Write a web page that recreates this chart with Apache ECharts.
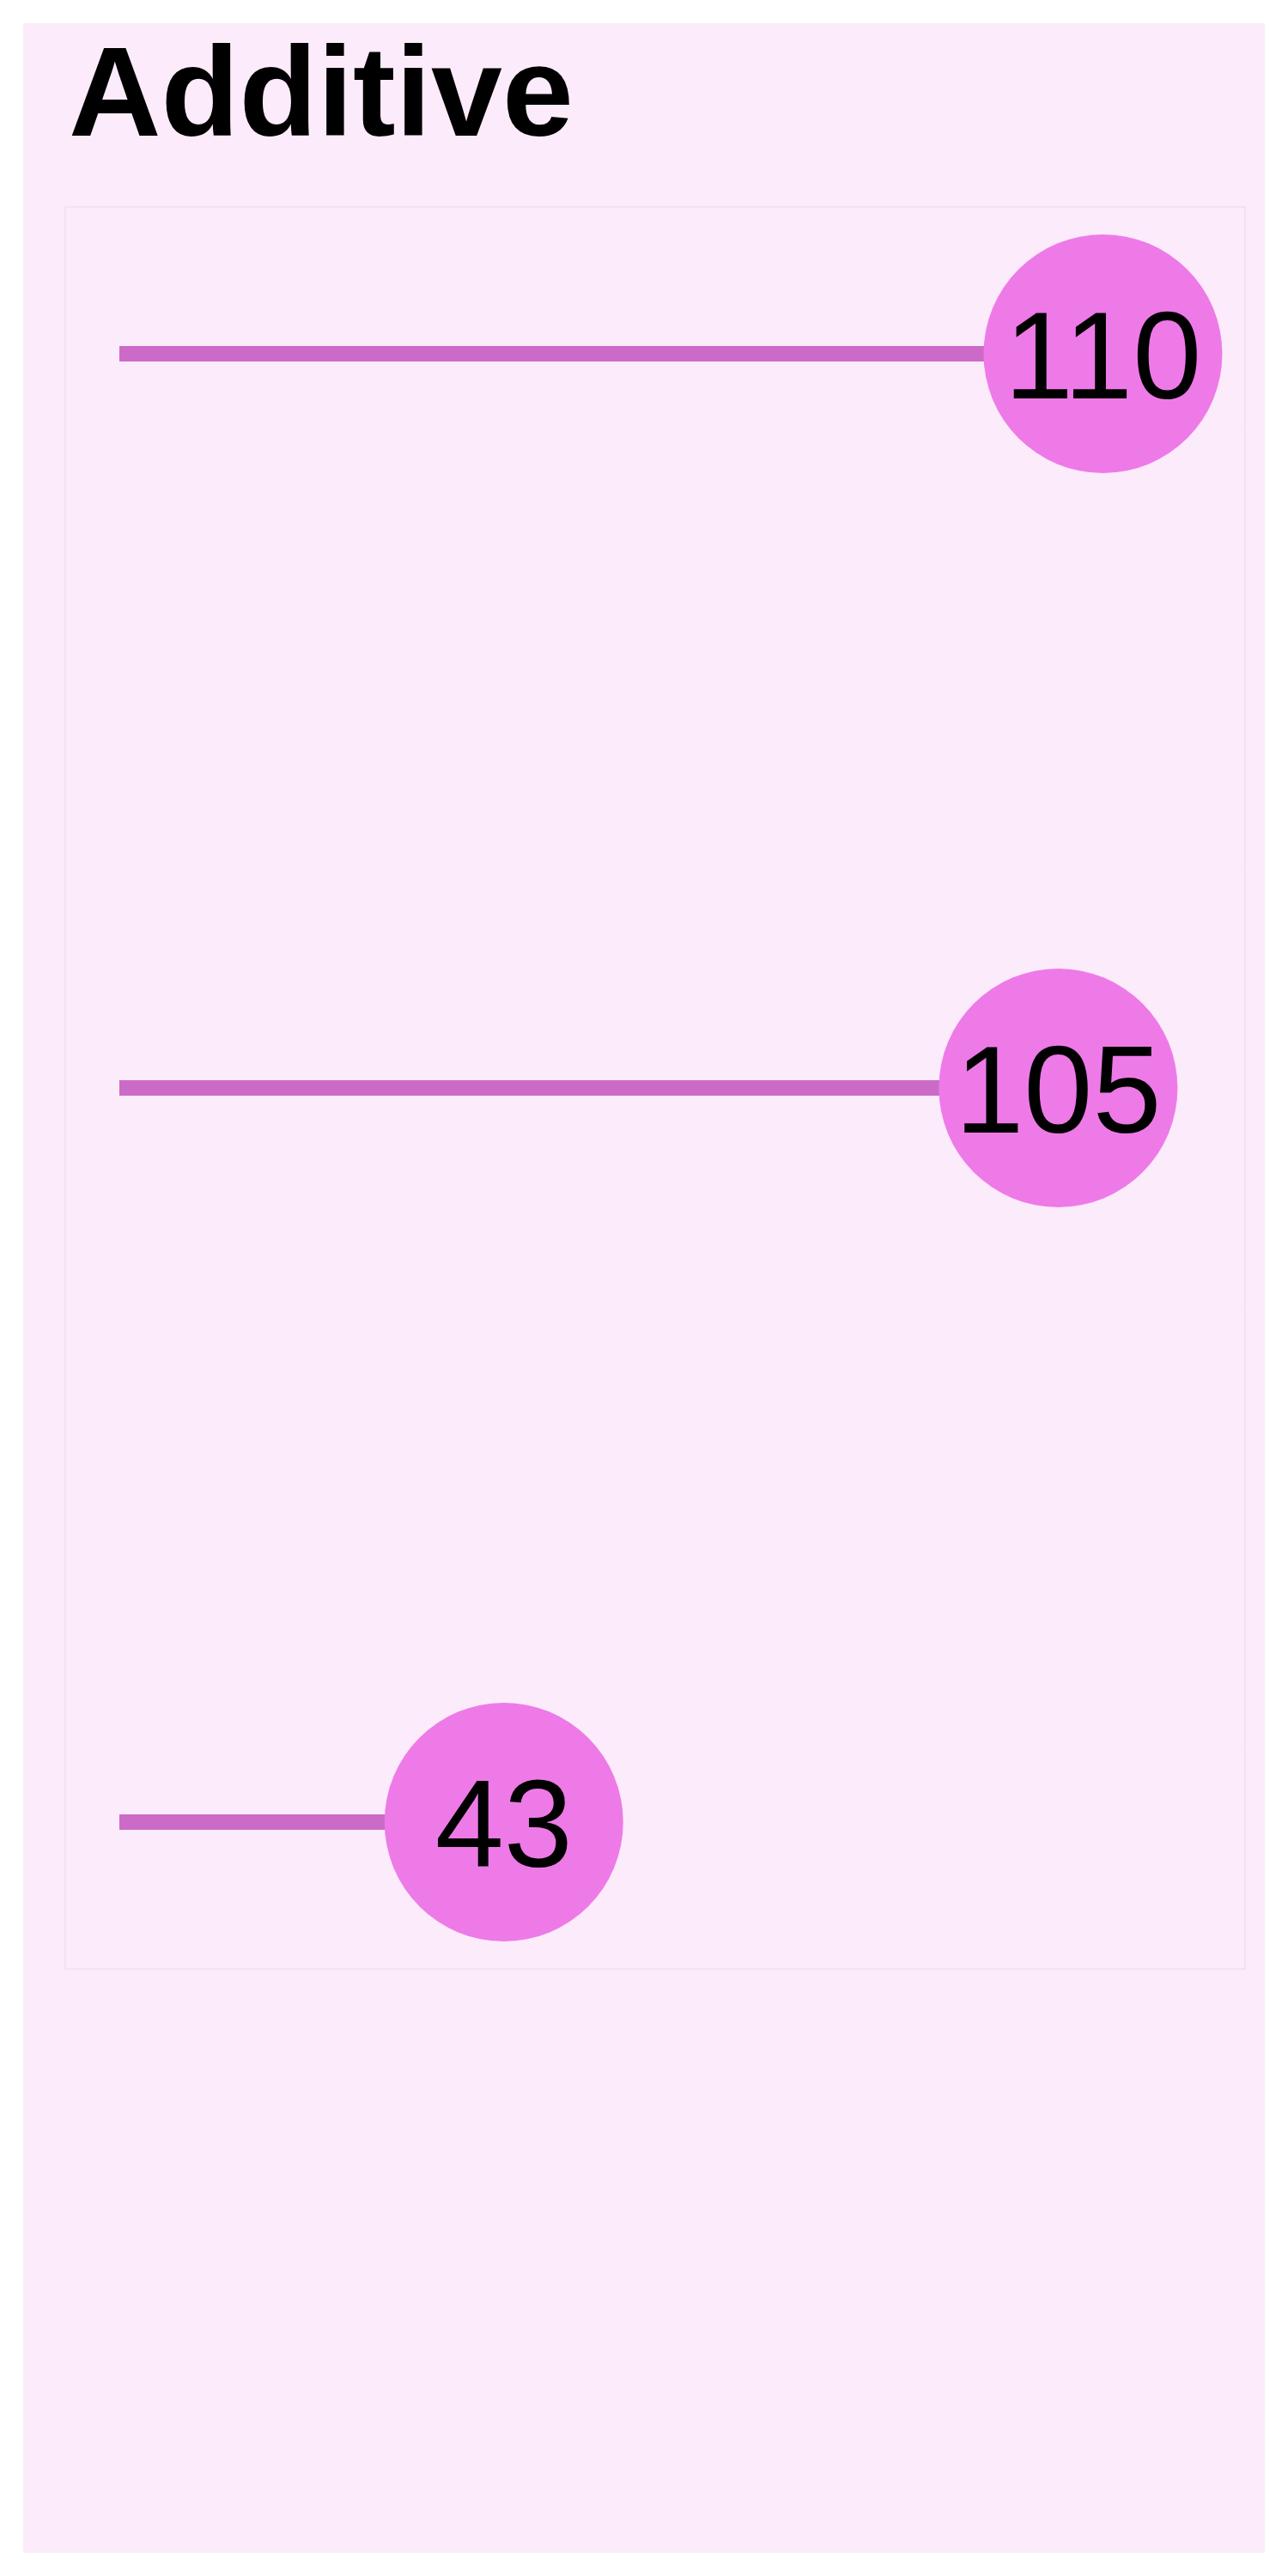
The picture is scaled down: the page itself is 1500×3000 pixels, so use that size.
<!DOCTYPE html>
<html>
<head>
<meta charset="utf-8">
<script src="https://cdn.jsdelivr.net/npm/echarts@6/dist/echarts.min.js"></script>
<style>
  html, body { margin: 0; padding: 0; background: #ffffff; }
  #chart { position: absolute; left: 27px; top: 27px; width: 1446px; height: 2946px; }
</style>
</head>
<body>
<div id="chart"></div>
<script>
const chartTitle = 'Additive';
const categories = ['A', 'B', 'C'];
const values = [110, 105, 43];

const rows = categories.map((c, i) => [values[i], i, c]);

const chart = echarts.init(document.getElementById('chart'), null, { renderer: 'canvas' });
chart.setOption({
  backgroundColor: '#fcebfa',
  animation: false,
  title: {
    text: chartTitle,
    left: 48,
    top: 10,
    textStyle: { fontFamily: 'Liberation Sans, Arial, sans-serif', fontWeight: 'bold', fontSize: 149, color: '#000' }
  },
  grid: {
    left: 49, top: 214, right: 23, bottom: 680,
    show: true, borderColor: '#ead8e8', borderWidth: 1, backgroundColor: 'transparent'
  },
  xAxis: {
    type: 'value', min: -6.05, max: 125.9,
    axisLine: { show: false }, axisTick: { show: false }, axisLabel: { show: false }, splitLine: { show: false }
  },
  yAxis: {
    type: 'value', min: -0.2, max: 2.2, inverse: true,
    axisLine: { show: false }, axisTick: { show: false }, axisLabel: { show: false }, splitLine: { show: false }
  },
  series: [
    {
      type: 'custom',
      z: 1,
      data: rows,
      encode: { x: 0, y: 1 },
      renderItem: function (params, api) {
        const start = api.coord([0, api.value(1)]);
        const end = api.coord([api.value(0), api.value(1)]);
        const h = 18;
        return {
          type: 'rect',
          shape: { x: start[0], y: start[1] - h / 2, width: end[0] - start[0], height: h },
          style: { fill: '#cc6ac8' }
        };
      }
    },
    {
      type: 'scatter',
      z: 3,
      data: rows,
      encode: { x: 0, y: 1 },
      symbol: 'circle',
      symbolSize: 278,
      itemStyle: { color: '#ee7ae8', opacity: 1 },
      label: {
        show: true,
        position: 'inside',
        offset: [0, 12],
        formatter: function (p) { return String(p.value[0]); },
        fontFamily: 'Liberation Sans, Arial, sans-serif',
        fontSize: 144,
        color: '#000'
      }
    }
  ]
});
</script>
</body>
</html>
